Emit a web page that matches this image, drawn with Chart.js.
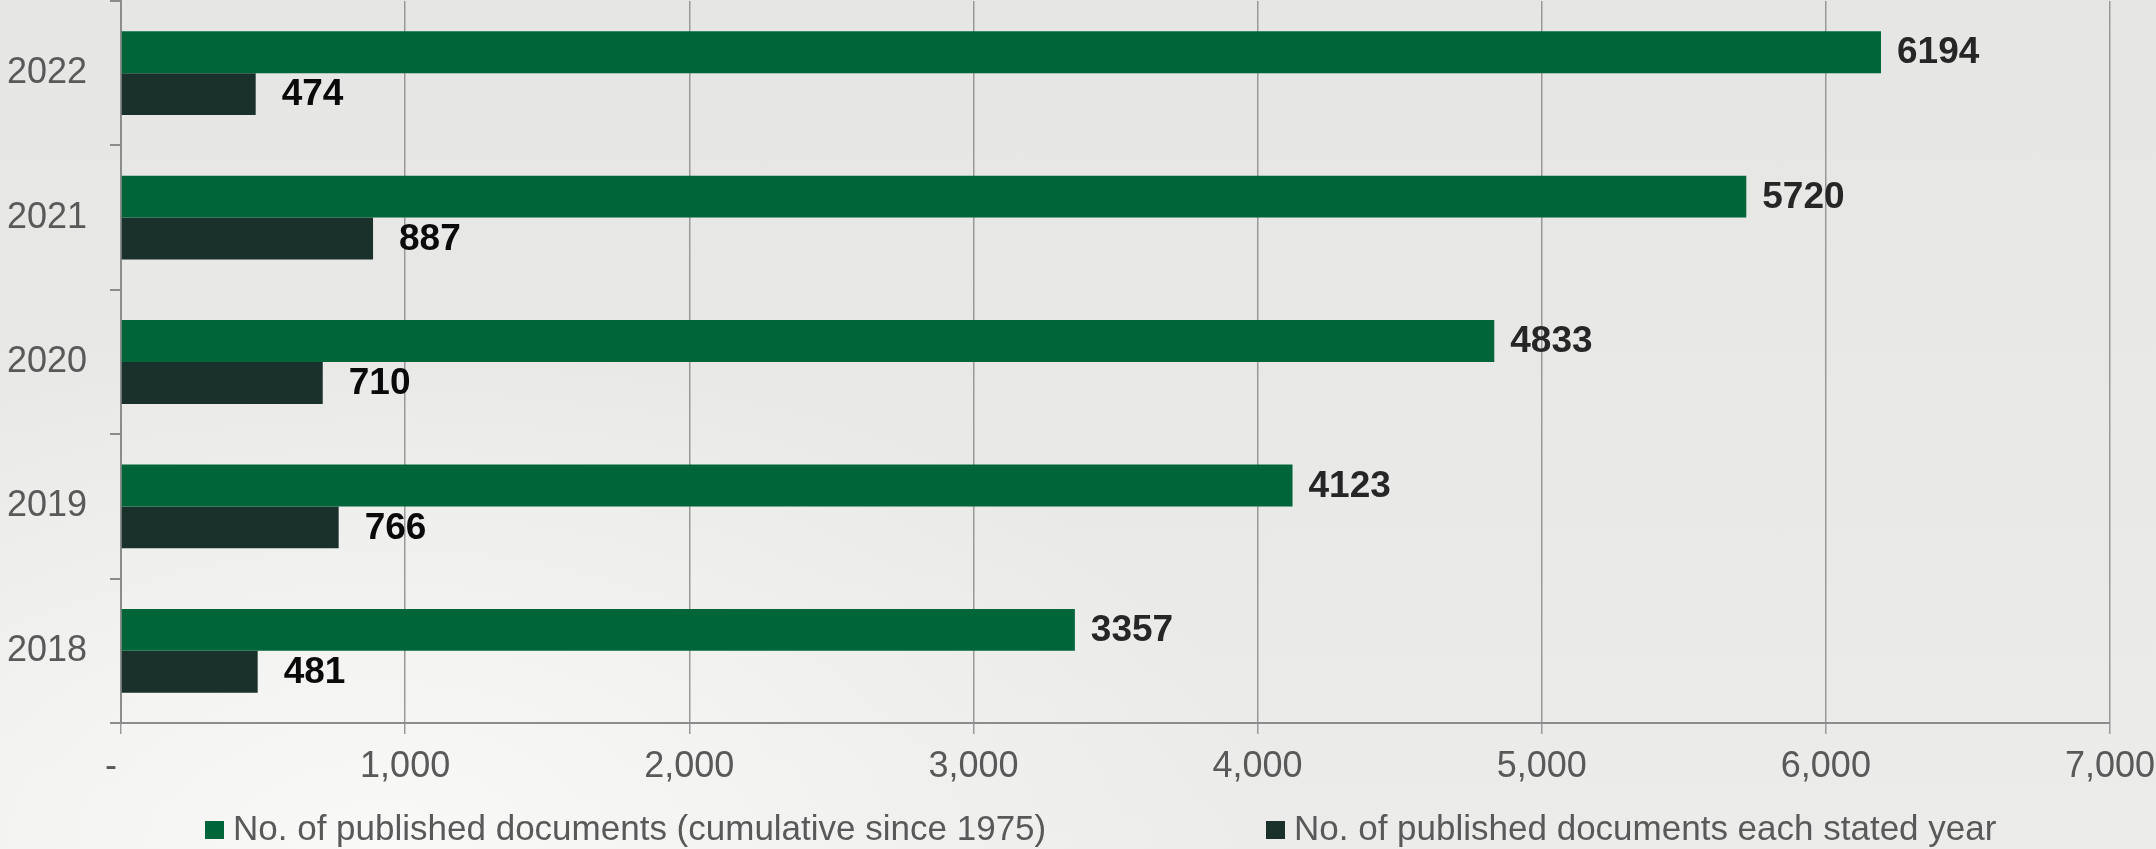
<!DOCTYPE html>
<html>
<head>
<meta charset="utf-8">
<title>Published documents</title>
<script src="https://cdn.jsdelivr.net/npm/chart.js@4.4.0/dist/chart.umd.min.js"></script>
<style>
    html, body {
        margin: 0;
        padding: 0;
        width: 2156px;
        height: 849px;
        overflow: hidden;
    }
    body {
        background:
            radial-gradient(ellipse 900px 520px at 380px 849px, rgba(250,250,249,0.95) 0%, rgba(245,245,244,0.6) 55%, rgba(233,233,232,0) 100%),
            linear-gradient(180deg, #e6e6e5 0%, #e9e9e8 60%, #ececeb 100%);
    }
    .chart-box {
        position: relative;
        width: 2156px;
        height: 849px;
    }
</style>
</head>
<body>
<div class="chart-box">
    <canvas id="documentosChart" width="2156" height="849"></canvas>
</div>
<script>
// Datos (de arriba hacia abajo)
const anios = ['2022', '2021', '2020', '2019', '2018'];
const acumulados = [6194, 5720, 4833, 4123, 3357];
const porAnio = [474, 887, 710, 766, 481];
const nombresSeries = [
    'No. of published documents (cumulative since 1975)',
    'No. of published documents each stated year'
];
const ejeMin = 0;
const ejeMax = 7000;
const ejePaso = 1000;

const FUENTE = "'Liberation Sans', Arial, sans-serif";

// Etiquetas de valor al final de cada barra
const etiquetasValor = {
    id: 'etiquetasValor',
    afterDatasetsDraw(chart) {
        const ctx = chart.ctx;
        ctx.save();
        ctx.font = 'bold 37px ' + FUENTE;
        ctx.textBaseline = 'middle';
        ctx.textAlign = 'left';
        chart.data.datasets.forEach((ds, i) => {
            const meta = chart.getDatasetMeta(i);
            ctx.fillStyle = ds.colorEtiqueta;
            meta.data.forEach((bar, j) => {
                ctx.fillText(String(ds.data[j]), bar.x + ds.separacion, bar.y + 1);
            });
        });
        ctx.restore();
    }
};

// Leyenda abajo, con el espaciado del original
const leyendaAbajo = {
    id: 'leyendaAbajo',
    afterDraw(chart) {
        const ctx = chart.ctx;
        const posiciones = [205, 1266];
        ctx.save();
        ctx.font = '35px ' + FUENTE;
        ctx.textBaseline = 'alphabetic';
        ctx.textAlign = 'left';
        chart.data.datasets.forEach((ds, i) => {
            const x = posiciones[i];
            ctx.fillStyle = ds.backgroundColor;
            ctx.fillRect(x, 821, 19, 18);
            ctx.fillStyle = '#595959';
            ctx.fillText(ds.label, x + 28, 840);
        });
        ctx.restore();
    }
};

function crearGraficaDocumentos() {
    const ctx = document.getElementById('documentosChart');
    if (!ctx) return;

    new Chart(ctx, {
        type: 'bar',
        data: {
            labels: anios,
            datasets: [{
                label: nombresSeries[0],
                data: acumulados,
                backgroundColor: '#006639',
                colorEtiqueta: '#262626',
                separacion: 16
            }, {
                label: nombresSeries[1],
                data: porAnio,
                backgroundColor: '#1a302b',
                colorEtiqueta: '#0a0a0a',
                separacion: 26
            }]
        },
        options: {
            indexAxis: 'y',
            responsive: false,
            animation: false,
            devicePixelRatio: 1,
            layout: {
                padding: { top: 1, right: 46, bottom: 0, left: 0 }
            },
            datasets: {
                bar: {
                    categoryPercentage: 0.58,
                    barPercentage: 1.0,
                    borderWidth: 0
                }
            },
            plugins: {
                legend: { display: false },
                tooltip: { enabled: false }
            },
            scales: {
                x: {
                    min: ejeMin,
                    max: ejeMax,
                    afterFit(scale) {
                        scale.height = 126;
                        scale.paddingRight = 0;
                        scale.paddingLeft = 0;
                    },
                    ticks: {
                        stepSize: ejePaso,
                        padding: 11,
                        color: '#595959',
                        font: { size: 36, family: FUENTE },
                        maxRotation: 0,
                        callback: (v) => v === 0 ? '-  ' : v.toLocaleString('en-US')
                    },
                    grid: {
                        color: '#999999',
                        lineWidth: 1.5,
                        tickLength: 11
                    },
                    border: { color: '#8c8c8c', width: 2 }
                },
                y: {
                    afterFit(scale) {
                        scale.width = 121;
                        scale.paddingTop = 0;
                        scale.paddingBottom = 0;
                    },
                    ticks: {
                        padding: 23,
                        color: '#595959',
                        font: { size: 36, family: FUENTE }
                    },
                    grid: {
                        drawOnChartArea: false,
                        color: '#8c8c8c',
                        lineWidth: 2,
                        tickLength: 11
                    },
                    border: { color: '#8c8c8c', width: 2 }
                }
            }
        },
        plugins: [etiquetasValor, leyendaAbajo]
    });
}

crearGraficaDocumentos();
</script>
</body>
</html>
